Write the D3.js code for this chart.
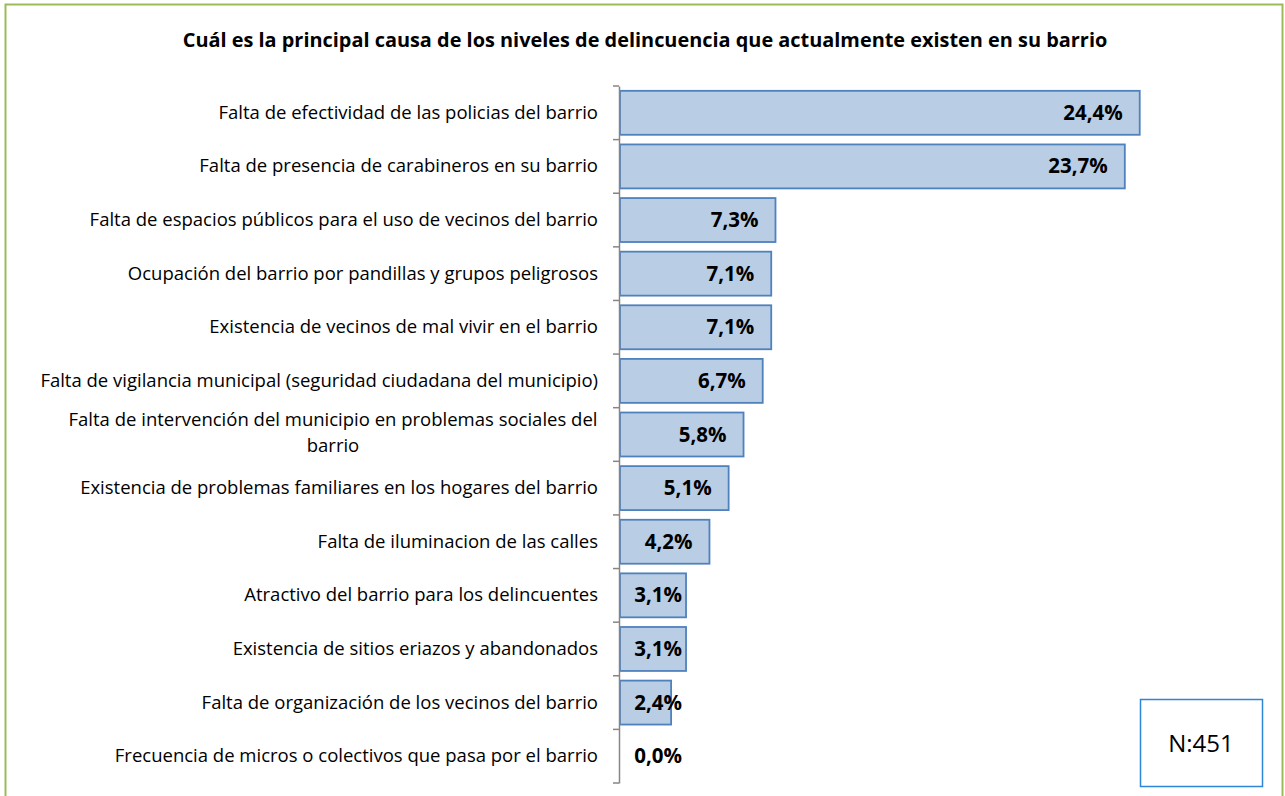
<!DOCTYPE html>
<html>
<head>
<meta charset="utf-8">
<script src="https://cdn.jsdelivr.net/npm/d3@7"></script>
<style>
  body { margin: 0; background: #fff; }
  svg { display: block; font-family: "Open Sans", Lato, sans-serif; }
</style>
</head>
<body>
<div id="chart"></div>
<script>
// datos
const categorias = [
  "Falta de efectividad de las policias del barrio",
  "Falta de presencia de carabineros en su barrio",
  "Falta de espacios públicos para el uso de vecinos del barrio",
  "Ocupación del barrio por pandillas y grupos peligrosos",
  "Existencia de vecinos de mal vivir en el barrio",
  "Falta de vigilancia municipal (seguridad ciudadana del municipio)",
  "Falta de intervención del municipio en problemas sociales del barrio",
  "Existencia de problemas familiares en los hogares del barrio",
  "Falta de iluminacion de las calles",
  "Atractivo del barrio para los delincuentes",
  "Existencia de sitios eriazos y abandonados",
  "Falta de organización de los vecinos del barrio",
  "Frecuencia de micros o colectivos que pasa por el barrio"
];
const porcentajes = [24.4, 23.7, 7.3, 7.1, 7.1, 6.7, 5.8, 5.1, 4.2, 3.1, 3.1, 2.4, 0.0];
const etiquetas = ["24,4%", "23,7%", "7,3%", "7,1%", "7,1%", "6,7%", "5,8%", "5,1%", "4,2%", "3,1%", "3,1%", "2,4%", "0,0%"];
const titulo = "Cuál es la principal causa de los niveles de delincuencia que actualmente existen en su barrio";
const muestra = "N:451";

const W = 1285, H = 796;
const svg = d3.select("#chart").append("svg").attr("width", W).attr("height", H);

// marco verde
svg.append("rect")
  .attr("x", 5.5).attr("y", 4.5)
  .attr("width", 1277).attr("height", 820)
  .attr("fill", "#fff").attr("stroke", "#9bbb59").attr("stroke-width", 2);

svg.append("text")
  .attr("x", 645).attr("y", 47)
  .attr("text-anchor", "middle")
  .attr("font-size", "19.9px").attr("font-weight", "bold")
  .attr("fill", "#000")
  .text(titulo);

const x = d3.scaleLinear().domain([0, 30]).range([620, 1259]);
const y = d3.scaleBand().domain(categorias).range([86, 783]).padding(0);
const step = y.bandwidth();
const inset = step * 0.09;

// barras
svg.append("g")
  .selectAll("rect")
  .data(categorias)
  .join("rect")
  .filter((d, i) => porcentajes[i] > 0)
  .attr("x", x(0))
  .attr("y", d => y(d) + inset)
  .attr("width", d => x(porcentajes[categorias.indexOf(d)]) - x(0))
  .attr("height", step - 2 * inset)
  .attr("fill", "#b9cde5")
  .attr("stroke", "#4f81bd")
  .attr("stroke-width", 1.8);

// eje vertical
const eje = d3.axisLeft(y).tickSize(0).tickFormat("");
const gEje = svg.append("g").attr("transform", `translate(${x(0) - 1},0)`).call(eje);
gEje.select(".domain").attr("stroke", "#868686").attr("stroke-width", 1.5);
gEje.selectAll(".tick").remove();
const bordes = categorias.map(c => y(c)).concat([y.range()[1]]);
gEje.selectAll(".marca")
  .data(bordes)
  .join("line")
  .attr("x1", -6).attr("x2", 0)
  .attr("y1", d => d).attr("y2", d => d)
  .attr("stroke", "#868686").attr("stroke-width", 1.5);

// etiquetas de categoria
const gCat = svg.append("g");
categorias.forEach((c, i) => {
  const cy = y(c) + step / 2;
  const t = gCat.append("text")
    .attr("font-size", "18.5px").attr("fill", "#000")
    .attr("text-anchor", "end");
  if (i === 6) {
    t.attr("text-anchor", "middle");
    t.append("tspan").attr("x", 333).attr("y", cy - 9).text("Falta de intervención del municipio en problemas sociales del");
    t.append("tspan").attr("x", 333).attr("y", cy + 17).text("barrio");
  } else {
    t.attr("x", 598).attr("y", cy + 6).text(c);
  }
});

// etiquetas de valor
svg.append("g")
  .selectAll("text")
  .data(categorias)
  .join("text")
  .attr("x", (d, i) => Math.max(x(porcentajes[i]) - 17, x(0) + 62))
  .attr("y", d => y(d) + step / 2 + 7)
  .attr("text-anchor", "end")
  .attr("font-size", "20.5px").attr("font-weight", "bold")
  .attr("fill", "#000")
  .text((d, i) => etiquetas[i]);

// caja N
svg.append("rect")
  .attr("x", 1140.5).attr("y", 699.5)
  .attr("width", 122).attr("height", 87)
  .attr("fill", "#fff").attr("stroke", "#2e86d6").attr("stroke-width", 1.5);
svg.append("text")
  .attr("x", 1201).attr("y", 752)
  .attr("text-anchor", "middle")
  .attr("font-size", "24px").attr("fill", "#000")
  .text(muestra);
</script>
</body>
</html>
